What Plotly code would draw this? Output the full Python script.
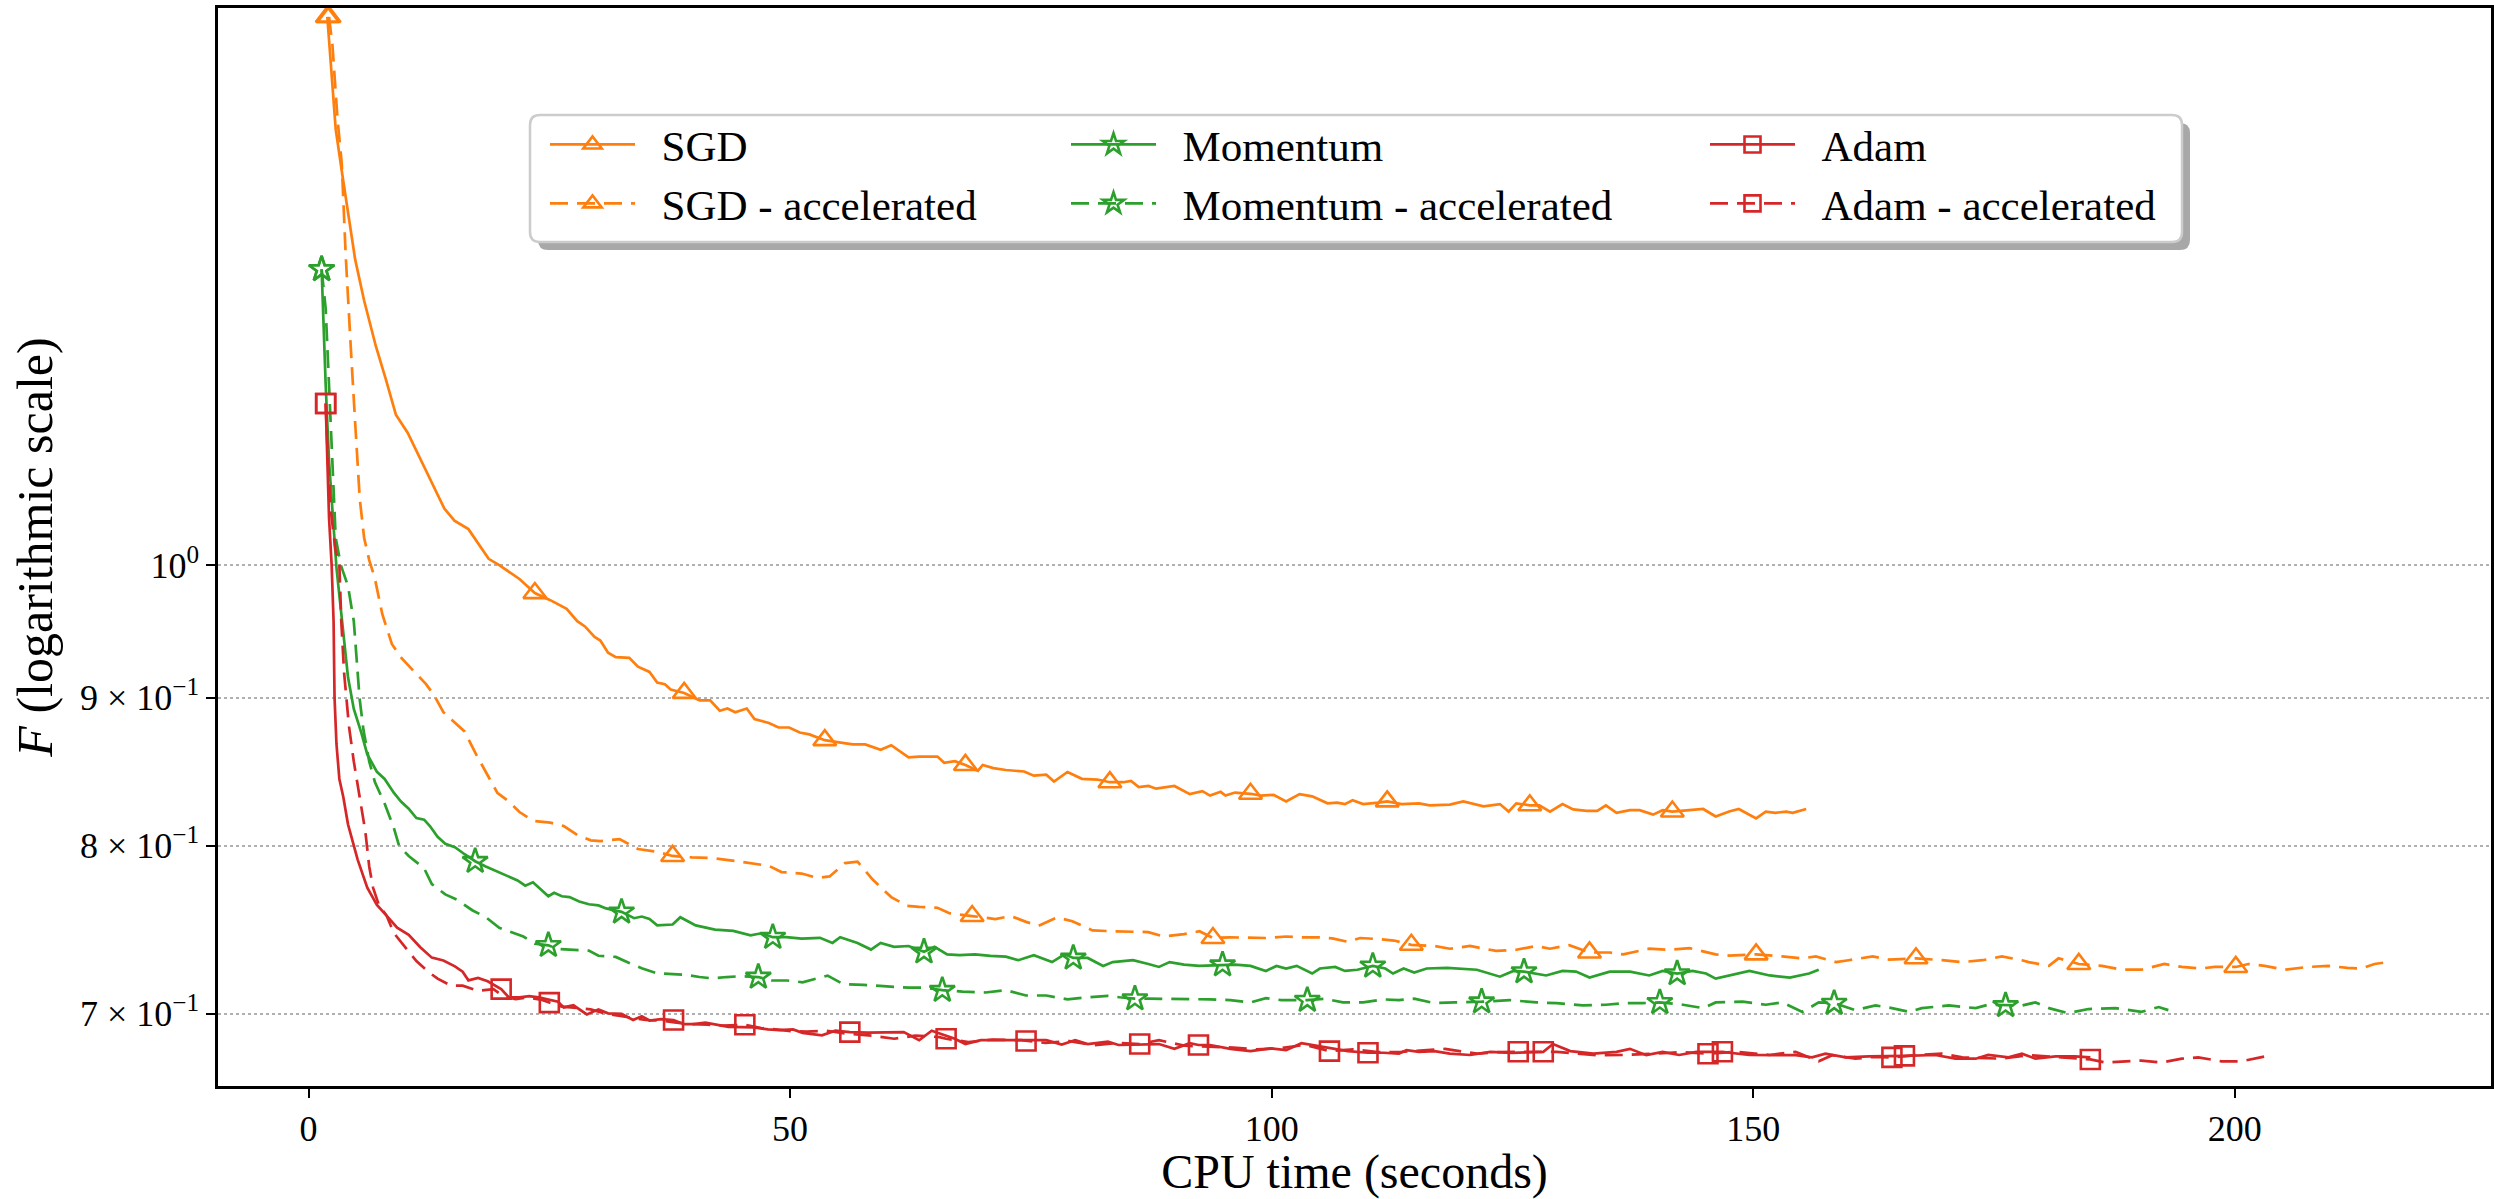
import numpy as np
import plotly.graph_objects as go

# ---------------- data ----------------
SGD_POINTS = [(1.95,1.546),(2.47,1.471),(2.82,1.414),(3.52,1.363),(4.21,1.315),(4.84,1.275),(5.77,1.234),(6.99,1.190),(8.03,1.159),(9.07,1.127),(10.29,1.111),(12.2,1.078),(14.1,1.046),(15.15,1.036),(16.6,1.029),(18.7,1.005),(19.8,1.000),(21.9,0.989),(23.5,0.978),(25.1,0.9725),(26.8,0.9658),(27.9,0.9564),(28.7,0.9524),(29.7,0.9445),(30.3,0.9418),(31.1,0.9327),(31.9,0.9294),(33.3,0.9289),(34.2,0.9224),(35.4,0.9186),(36.2,0.9109),(37.0,0.9097),(37.6,0.9059),(39.0,0.9034),(40.6,0.8981),(41.7,0.8981),(42.7,0.8907),(43.5,0.8923),(44.3,0.8896),(45.5,0.8923),(46.3,0.8848),(47.8,0.8821),(48.8,0.8789),(49.9,0.8789),(51.0,0.8754),(52.0,0.8741),(53.6,0.8701),(54.9,0.8688),(56.5,0.8672),(57.8,0.8672),(59.4,0.8635),(60.5,0.8666),(62.3,0.8583),(63.4,0.8588),(65.3,0.8588),(66.0,0.8546),(67.1,0.8557),(68.2,0.8531),(69.5,0.8492),(70.0,0.8531),(71.1,0.8510),(72.4,0.8497),(74.3,0.8487),(75.3,0.8459),(76.6,0.8466),(77.4,0.8420),(78.8,0.8484),(80.3,0.8438),(81.9,0.8433),(83.2,0.8415),(84.6,0.8415),(85.4,0.8423),(86.2,0.8382),(87.2,0.8390),(88.0,0.8372),(89.9,0.8390),(91.5,0.8336),(92.8,0.8356),(93.6,0.8326),(94.7,0.8351),(95.2,0.8326),(96.2,0.8346),(97.8,0.8338),(98.9,0.8326),(100.2,0.8331),(101.5,0.8288),(102.9,0.8336),(104.2,0.8321),(105.8,0.8275),(106.8,0.8280),(107.6,0.8270),(108.4,0.8295),(109.5,0.8270),(111.1,0.8280),(112.0,0.8288),(113.5,0.8270),(115.3,0.8275),(116.4,0.8262),(118.5,0.8267),(119.9,0.8288),(122.0,0.8255),(123.7,0.8270),(124.6,0.8221),(125.4,0.8275),(126.8,0.8262),(127.8,0.8262),(128.9,0.8221),(130.2,0.8270),(131.3,0.8235),(132.7,0.8226),(133.8,0.8226),(134.7,0.8262),(135.8,0.8213),(137.2,0.8230),(138.2,0.8230),(139.6,0.8201),(140.6,0.8230),(141.6,0.8221),(143.0,0.8230),(144.8,0.8238),(146.1,0.8189),(147.5,0.8221),(148.5,0.8238),(150.3,0.8177),(151.3,0.8221),(152.3,0.8213),(153.4,0.8221),(154.1,0.8213),(155.5,0.8238)]
SGD_MARKS = [1.95, 23.5, 39.0, 53.6, 68.2, 83.2, 97.8, 112.0, 126.8, 141.6]

SGD_ACC_POINTS = [(2.13,1.546),(2.48,1.512),(3.0,1.427),(3.45,1.376),(3.86,1.279),(4.14,1.226),(4.38,1.190),(4.84,1.120),(5.32,1.054),(5.77,1.022),(6.3,1.004),(6.87,0.990),(7.66,0.9617),(8.65,0.9392),(9.64,0.9289),(11.0,0.9186),(12.2,0.9097),(13.0,0.9021),(14.0,0.8897),(15.0,0.8835),(16.2,0.8762),(17.4,0.8603),(18.4,0.8485),(19.6,0.8345),(20.8,0.8287),(21.9,0.8218),(23.3,0.8161),(25.1,0.8149),(26.5,0.8127),(27.9,0.8070),(29.3,0.8035),(30.3,0.8030),(32.3,0.8043),(34.2,0.7980),(36.2,0.7962),(37.8,0.7936),(39.8,0.7927),(41.9,0.7923),(44.3,0.7904),(46.5,0.7887),(47.8,0.7874),(49.1,0.7835),(51.2,0.7826),(52.8,0.7799),(54.1,0.7808),(55.7,0.7891),(57.0,0.7900),(58.6,0.7787),(60.5,0.7681),(62.1,0.7628),(63.4,0.7621),(65.3,0.7616),(66.6,0.7582),(68.9,0.7566),(70.0,0.7557),(71.3,0.7548),(72.9,0.7566),(74.5,0.7531),(75.8,0.7508),(77.7,0.7557),(79.3,0.7535),(81.4,0.7480),(83.5,0.7475),(85.6,0.7470),(87.2,0.7470),(88.8,0.7444),(90.9,0.7458),(92.5,0.7475),(93.9,0.7435),(95.7,0.7439),(97.8,0.7439),(99.4,0.7435),(101.5,0.7444),(103.1,0.7439),(105.0,0.7439),(106.3,0.7433),(107.9,0.7413),(109.2,0.7435),(111.3,0.7428),(112.7,0.7420),(114.5,0.7395),(116.9,0.7388),(118.5,0.7372),(120.6,0.7388),(123.3,0.7359),(125.4,0.7366),(127.5,0.7388),(128.9,0.7372),(130.9,0.7393),(133.0,0.7350),(135.1,0.7350),(136.5,0.7339),(139.2,0.7372),(141.3,0.7366),(143.4,0.7375),(146.1,0.7339),(147.5,0.7332),(150.3,0.7339),(153.0,0.7327),(155.1,0.7316),(156.5,0.7327),(158.6,0.7294),(159.9,0.7305),(162.4,0.7327),(164.1,0.7309),(166.9,0.7316),(169.6,0.7305),(171.7,0.7294),(173.8,0.7305),(175.8,0.7327),(177.9,0.7305),(178.6,0.7294),(180.7,0.7272),(181.7,0.7316),(183.8,0.7283),(186.2,0.7272),(188.3,0.7250),(190.3,0.7250),(192.7,0.7283),(194.5,0.7266),(196.5,0.7257),(197.9,0.7266),(200.1,0.7266),(201.4,0.7283),(203.1,0.7272),(205.2,0.7250),(207.6,0.7266),(209.7,0.7272),(211.7,0.7261),(213.1,0.7257),(214.5,0.7283),(215.9,0.7294)]
SGD_ACC_MARKS = [2.13, 37.8, 68.9, 93.9, 114.5, 133.0, 150.3, 166.9, 183.8, 200.1]

MOM_POINTS = [(1.36,1.265),(1.5,1.226),(1.6,1.190),(1.78,1.154),(1.95,1.120),(2.13,1.086),(2.4,1.054),(2.65,1.022),(2.9,0.998),(3.1,0.9834),(3.7,0.9432),(4.1,0.9147),(4.7,0.892),(5.5,0.8748),(6.1,0.8603),(7.1,0.8485),(7.9,0.8437),(8.85,0.8345),(9.6,0.8287),(10.4,0.8240),(11.2,0.8179),(12.0,0.8168),(12.6,0.8127),(13.4,0.8058),(14.2,0.8013),(15.2,0.7991),(16.2,0.7947),(17.3,0.7903),(18.4,0.7870),(19.6,0.7837),(20.8,0.7804),(21.7,0.7783),(22.5,0.7751),(23.3,0.7772),(24.1,0.7729),(24.9,0.7686),(25.5,0.7707),(26.3,0.7686),(27.1,0.7681),(28.1,0.7654),(29.1,0.7637),(30.1,0.7630),(30.9,0.7612),(32.5,0.7591),(33.8,0.7553),(34.6,0.7563),(35.4,0.7548),(36.2,0.7510),(37.8,0.7515),(38.6,0.7559),(40.2,0.7510),(42.2,0.7485),(44.1,0.7477),(45.9,0.7451),(47.0,0.7463),(48.2,0.7440),(49.6,0.7440),(51.2,0.7431),(53.1,0.7436),(54.4,0.7406),(55.2,0.7440),(57.0,0.7406),(58.4,0.7367),(59.4,0.7406),(60.8,0.7383),(62.3,0.7388),(63.9,0.7354),(65.0,0.7383),(66.3,0.7339),(67.6,0.7334),(69.2,0.7339),(70.8,0.7330),(72.4,0.7326),(73.7,0.7305),(75.3,0.7334),(77.2,0.7294),(78.5,0.7339),(79.4,0.7318),(80.9,0.7318),(82.5,0.7272),(83.5,0.7294),(85.6,0.7305),(87.2,0.7283),(88.3,0.7266),(89.4,0.7294),(90.9,0.7279),(92.5,0.7272),(94.9,0.7279),(96.2,0.7279),(97.8,0.7272),(99.4,0.7243),(100.5,0.7272),(101.5,0.7257),(102.6,0.7272),(104.2,0.7228),(105.0,0.7257),(106.6,0.7266),(107.6,0.7243),(108.9,0.7250),(110.5,0.7272),(111.8,0.7257),(112.6,0.7228),(113.7,0.7257),(114.8,0.7234),(116.1,0.7257),(118.2,0.7261),(121.3,0.7250),(123.7,0.7210),(125.1,0.7243),(126.2,0.7239),(128.5,0.7217),(130.2,0.7243),(131.6,0.7239),(133.0,0.7205),(135.1,0.7239),(137.2,0.7239),(139.2,0.7217),(140.6,0.7243),(142.1,0.7228),(143.7,0.7243),(145.1,0.7228),(146.1,0.7199),(147.5,0.7217),(149.6,0.7243),(151.7,0.7217),(153.8,0.7205),(155.8,0.7228),(156.8,0.7250)]
MOM_MARKS = [1.36, 17.3, 32.5, 48.2, 63.9, 79.4, 94.9, 110.5, 126.2, 142.1]

MOM_ACC_POINTS = [(1.36,1.265),(1.78,1.226),(1.95,1.190),(2.13,1.154),(2.3,1.120),(2.5,1.086),(2.65,1.054),(2.82,1.022),(3.35,1.000),(4.1,0.9834),(4.7,0.9564),(5.0,0.9301),(5.3,0.8995),(5.7,0.8773),(6.3,0.8555),(6.9,0.8414),(7.9,0.8274),(8.85,0.8116),(9.4,0.8000),(10.4,0.7936),(12.0,0.7859),(12.8,0.7761),(14.2,0.7697),(15.4,0.7665),(17.0,0.7601),(18.4,0.7559),(19.8,0.7496),(20.8,0.7475),(22.3,0.7444),(23.5,0.7402),(24.9,0.7392),(25.9,0.7371),(27.1,0.7366),(29.1,0.7361),(30.1,0.7331),(31.9,0.7324),(33.3,0.7289),(34.6,0.7259),(36.2,0.7229),(37.8,0.7224),(39.2,0.7221),(40.6,0.7208),(42.0,0.7200),(43.4,0.7208),(45.0,0.7213),(46.7,0.7208),(48.1,0.7188),(49.7,0.7188),(51.3,0.7178),(53.9,0.7216),(55.5,0.7168),(57.6,0.7163),(60.5,0.7151),(62.3,0.7147),(63.9,0.7147),(65.8,0.7133),(67.9,0.7125),(70.3,0.7120),(72.4,0.7133),(74.5,0.7103),(76.6,0.7103),(78.8,0.7081),(80.9,0.7093),(83.0,0.7101),(84.2,0.7093),(85.8,0.7085),(87.2,0.7085),(89.4,0.7085),(91.5,0.7081),(93.6,0.7081),(95.7,0.7077),(97.8,0.7064),(99.4,0.7088),(101.0,0.7077),(103.7,0.7077),(105.5,0.7085),(107.4,0.7064),(109.5,0.7064),(111.6,0.7081),(113.2,0.7077),(114.8,0.7085),(116.9,0.7060),(119.0,0.7064),(121.8,0.7068),(124.7,0.7077),(127.5,0.7064),(129.6,0.7060),(132.3,0.7047),(134.7,0.7051),(136.5,0.7060),(138.5,0.7060),(140.3,0.7064),(142.7,0.7051),(144.8,0.7032),(146.1,0.7064),(148.9,0.7068),(151.3,0.7051),(153.0,0.7064),(155.1,0.7011),(156.8,0.7064),(158.4,0.7060),(160.6,0.7021),(162.7,0.7047),(164.4,0.7032),(166.2,0.7011),(167.5,0.7032),(170.3,0.7047),(173.1,0.7032),(174.4,0.7051),(176.2,0.7047),(177.9,0.7047),(179.3,0.7064),(180.7,0.7032),(182.7,0.7004),(184.8,0.7027),(187.6,0.7032),(190.3,0.7011),(192.1,0.7038),(193.1,0.7021)]
MOM_ACC_MARKS = [1.36, 24.9, 46.7, 65.8, 85.8, 103.7, 121.8, 140.3, 158.4, 176.2]

ADAM_POINTS = [(1.78,1.137),(1.95,1.086),(2.13,1.038),(2.4,1.000),(2.6,0.9564),(2.7,0.900),(2.9,0.8675),(3.2,0.8437),(3.6,0.832),(4.1,0.8138),(4.5,0.8047),(5.1,0.7913),(6.1,0.7739),(7.1,0.7633),(8.1,0.7569),(9.2,0.7496),(10.4,0.7454),(11.6,0.7381),(12.8,0.7320),(14.0,0.7303),(15.2,0.7269),(16.0,0.7239),(16.6,0.7189),(17.6,0.7203),(18.6,0.7184),(20.0,0.7139),(20.8,0.7092),(21.9,0.7092),(22.9,0.7099),(23.9,0.7092),(25.9,0.7068),(26.5,0.7036),(27.5,0.7048),(28.9,0.6997),(30.1,0.7025),(31.1,0.7003),(32.5,0.7000),(33.7,0.6966),(34.6,0.6987),(35.4,0.6963),(36.6,0.6971),(37.9,0.6966),(39.0,0.6943),(40.0,0.6943),(41.2,0.6951),(42.2,0.6940),(43.6,0.6928),(46.2,0.6925),(47.7,0.6914),(48.9,0.6910),(50.3,0.6914),(51.3,0.6895),(53.3,0.6882),(54.7,0.6907),(56.2,0.6899),(58.1,0.6896),(59.7,0.6899),(61.8,0.6899),(63.4,0.6855),(64.7,0.6907),(67.1,0.6863),(68.2,0.6834),(69.8,0.6855),(72.4,0.6855),(74.5,0.6851),(76.6,0.6855),(78.2,0.6831),(79.6,0.6855),(80.9,0.6834),(83.0,0.6847),(84.1,0.6829),(88.3,0.6834),(89.9,0.6808),(91.5,0.6839),(92.4,0.6829),(93.6,0.6829),(95.7,0.6808),(97.8,0.6796),(99.9,0.6811),(101.5,0.6801),(103.1,0.6839),(104.2,0.6829),(107.9,0.6796),(110.0,0.6787),(111.6,0.6787),(113.2,0.6782),(114.0,0.6801),(115.3,0.6792),(116.9,0.6796),(118.5,0.6782),(120.6,0.6775),(122.7,0.6792),(125.0,0.6786),(128.2,0.6792),(129.2,0.6834),(131.0,0.6796),(133.4,0.6782),(135.8,0.6792),(137.2,0.6808),(138.9,0.6774),(140.6,0.6792),(142.3,0.6775),(144.1,0.6792),(146.8,0.6792),(149.6,0.6775),(152.3,0.6774),(154.4,0.6774),(156.1,0.6762),(157.5,0.6782),(159.6,0.6762),(162.0,0.6767),(165.7,0.6770),(168.9,0.6775),(171.0,0.6755),(173.1,0.6755),(174.4,0.6775),(176.5,0.6762),(177.9,0.6782),(179.3,0.6755),(181.4,0.6767),(183.4,0.6767),(185.0,0.6762)]
ADAM_MARKS = [1.78, 20.0, 37.9, 56.2, 74.5, 92.4, 110.0, 128.2, 146.8, 165.7]

ADAM_ACC_POINTS = [(1.78,1.137),(2.0,1.090),(2.3,1.045),(2.8,1.012),(3.2,1.000),(3.4,0.9564),(3.7,0.9173),(4.2,0.8797),(4.7,0.8555),(5.3,0.832),(5.9,0.8091),(6.3,0.7870),(6.7,0.7739),(7.3,0.7633),(8.1,0.7569),(8.85,0.7465),(10.0,0.7381),(11.2,0.7300),(12.4,0.7239),(13.4,0.7199),(14.8,0.7159),(16.0,0.7159),(17.6,0.7129),(19.2,0.7139),(20.2,0.7099),(21.5,0.7083),(22.7,0.7092),(24.1,0.7080),(25.0,0.7063),(26.3,0.7040),(27.9,0.7033),(29.3,0.7025),(30.7,0.7003),(32.3,0.6987),(33.8,0.6976),(35.0,0.6966),(36.6,0.6963),(38.2,0.6951),(39.8,0.6943),(41.4,0.6940),(43.0,0.6935),(45.3,0.6940),(47.0,0.6922),(48.5,0.6914),(50.1,0.6905),(51.7,0.6902),(53.8,0.6907),(56.0,0.6890),(58.5,0.6880),(60.8,0.6863),(63.0,0.6880),(65.5,0.6872),(66.2,0.6863),(68.5,0.6845),(71.0,0.6858),(74.0,0.6855),(76.5,0.6840),(79.0,0.6850),(81.5,0.6828),(84.0,0.6840),(86.3,0.6834),(88.3,0.6855),(91.0,0.6825),(93.5,0.6820),(96.0,0.6815),(98.5,0.6805),(101.0,0.6812),(103.5,0.6830),(106.0,0.6796),(108.5,0.6805),(111.0,0.6790),(113.5,0.6792),(116.0,0.6800),(118.0,0.6808),(121.3,0.6782),(123.5,0.6790),(125.6,0.6792),(129.6,0.6792),(133.7,0.6774),(136.5,0.6775),(139.9,0.6782),(142.5,0.6790),(145.3,0.6782),(148.2,0.6792),(151.7,0.6775),(154.4,0.6792),(156.8,0.6741),(158.2,0.6774),(160.6,0.6755),(162.5,0.6765),(164.4,0.6762),(166.9,0.6774),(169.6,0.6782),(171.7,0.6762),(175.8,0.6755),(178.6,0.6774),(182.0,0.6762),(185.0,0.6751),(186.5,0.6735),(188.3,0.6741),(190.3,0.6745),(192.4,0.6735),(194.5,0.6755),(196.2,0.6762),(198.6,0.6741),(200.7,0.6741),(203.1,0.6767)]
ADAM_ACC_MARKS = [1.78, 25.0, 45.3, 66.2, 86.3, 106.0, 125.6, 145.3, 164.4, 185.0]

X_TICKS = [0, 50, 100, 150, 200]
Y_TICKS = [0.7, 0.8, 0.9, 1.0]
Y_TICK_TEXT = ["7 × 10<sup>−1</sup>", "8 × 10<sup>−1</sup>", "9 × 10<sup>−1</sup>", "10<sup>0</sup>"]

# ---------------- styling ----------------
ORANGE, GREEN, RED = "#ff7f0e", "#2ca02c", "#d62728"
DASH = "18px,9px"
FONT = "Liberation Serif"
LW = 2.7
SIZES = {"triangle-up-open": 20, "star-open": 19, "square-open": 19}
PAD = "\u00a0\u00a0"

series = [
    ("SGD", SGD_POINTS, SGD_MARKS, ORANGE, "solid", "triangle-up-open", "legend"),
    ("SGD - accelerated", SGD_ACC_POINTS, SGD_ACC_MARKS, ORANGE, DASH, "triangle-up-open", "legend"),
    ("Momentum", MOM_POINTS, MOM_MARKS, GREEN, "solid", "star-open", "legend2"),
    ("Momentum - accelerated", MOM_ACC_POINTS, MOM_ACC_MARKS, GREEN, DASH, "star-open", "legend2"),
    ("Adam", ADAM_POINTS, ADAM_MARKS, RED, "solid", "square-open", "legend3"),
    ("Adam - accelerated", ADAM_ACC_POINTS, ADAM_ACC_MARKS, RED, DASH, "square-open", "legend3"),
]

fig = go.Figure()
for name, pts, marks, color, dash, sym, leg in series:
    t = [p[0] for p in pts]
    F = [p[1] for p in pts]
    fig.add_trace(go.Scatter(x=t, y=F, mode="lines", line=dict(color=color, width=LW, dash=dash),
                             showlegend=False, hoverinfo="skip"))
    my = np.interp(marks, t, F)
    fig.add_trace(go.Scatter(x=marks, y=my, mode="markers",
                             marker=dict(symbol=sym, size=SIZES[sym], color=color, line=dict(width=2.6, color=color)),
                             showlegend=False, hoverinfo="skip"))
    fig.add_trace(go.Scatter(x=[None], y=[None], mode="lines+markers", name=PAD + name, legend=leg,
                             line=dict(color=color, width=LW, dash=dash),
                             marker=dict(symbol=sym, size=16, color=color, line=dict(width=2.6, color=color))))

# plot area in pixels: x 218..2491, y 8..1086
W, H = 2494, 1199
L, R, T, B = 218, 3, 8, 113
PW, PH = W - L - R, H - T - B

def px(xp):
    return (xp - L) / PW

def py(yp):
    return (H - B - yp) / PH

def rrect(x0, y0, x1, y1, r):
    rx, ry = r / PW, r / PH
    a, b, c, d = px(x0), px(x1), py(y0), py(y1)
    return (f"M{a+rx},{c} L{b-rx},{c} Q{b},{c} {b},{c-ry} L{b},{d+ry} Q{b},{d} {b-rx},{d} "
            f"L{a+rx},{d} Q{a},{d} {a},{d+ry} L{a},{c-ry} Q{a},{c} {a+rx},{c} Z")

shapes = [
    dict(type="path", xref="paper", yref="paper", layer="above",
         path=rrect(538, 123, 2190, 250, 10), fillcolor="#a8a8a8", line=dict(width=0)),
    dict(type="path", xref="paper", yref="paper", layer="above",
         path=rrect(530, 115, 2182, 242, 10), fillcolor="white", line=dict(color="#cccccc", width=2.5)),
]

leg_common = dict(orientation="v", xanchor="left", yanchor="top", bgcolor="rgba(0,0,0,0)",
                  borderwidth=0, itemwidth=85, font=dict(family=FONT, size=43, color="black"),
                  tracegroupgap=0)
LEG_TOP = 110
fig.update_layout(
    legend=dict(x=px(545), y=py(LEG_TOP), **leg_common),
    legend2=dict(x=px(1066), y=py(LEG_TOP), **leg_common),
    legend3=dict(x=px(1705), y=py(LEG_TOP), **leg_common),
)

axis_common = dict(showline=True, linecolor="black", linewidth=2.5, mirror=True,
                   ticks="outside", ticklen=9, tickwidth=2, tickcolor="black",
                   zeroline=False, tickfont=dict(family=FONT, size=36, color="black"))

fig.update_layout(
    width=W, height=H,
    margin=dict(l=L, r=R, t=T, b=B, autoexpand=False),
    paper_bgcolor="white", plot_bgcolor="white",
    font=dict(family=FONT, color="black"),
    shapes=shapes,
    xaxis=dict(range=[-9.4, 226.6], tickvals=X_TICKS, showgrid=False,
               title=dict(text="CPU time (seconds)", font=dict(family=FONT, size=48), standoff=18),
               **axis_common),
    yaxis=dict(type="log", range=[np.log10(0.661), np.log10(1.557)], tickvals=Y_TICKS, ticktext=Y_TICK_TEXT,
               showgrid=True, gridcolor="#b0b0b0", gridwidth=2, griddash="dot",
               title=dict(text="<i>F</i> (logarithmic scale)", font=dict(family=FONT, size=50), standoff=12),
               **axis_common),
)

fig.write_html("out.html")
